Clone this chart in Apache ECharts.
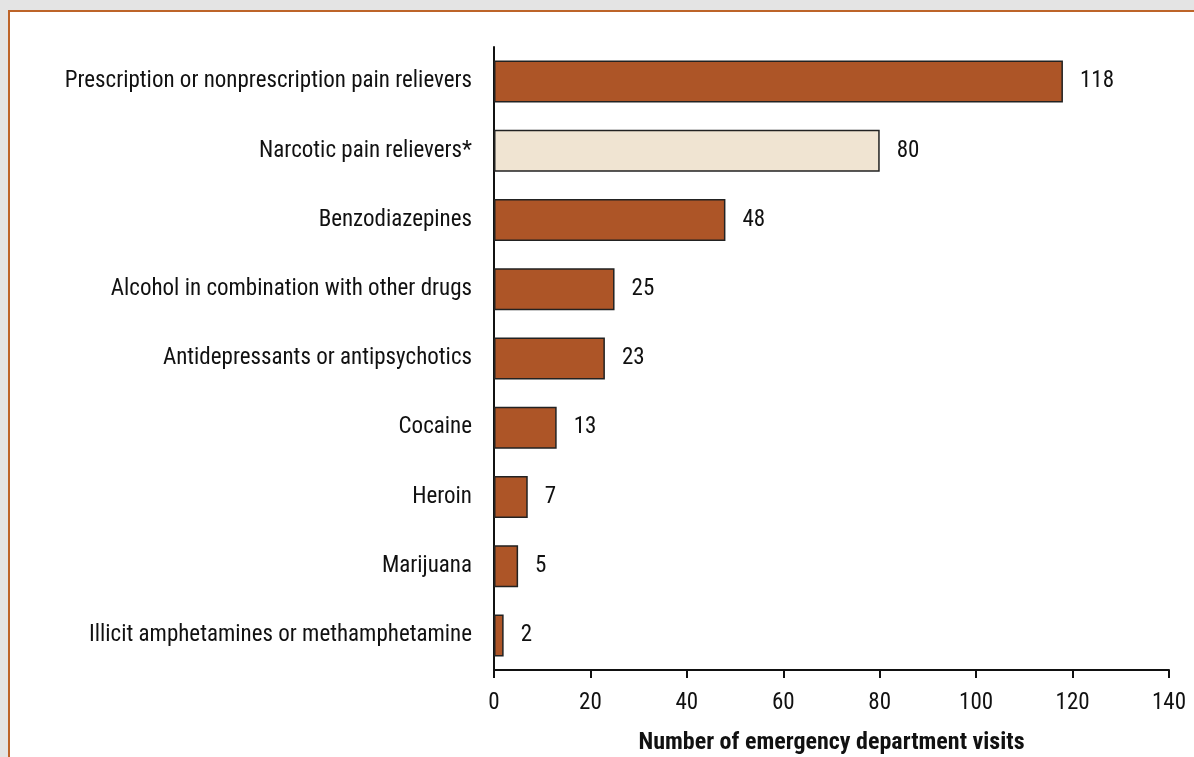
<!DOCTYPE html>
<html><head><meta charset="utf-8">
<script src="https://cdn.jsdelivr.net/npm/echarts@6/dist/echarts.min.js"></script>
<style>html,body{margin:0;padding:0;background:#fff}#c{width:1194px;height:757px}</style>
</head><body><div id="c"></div>
<script>
const categories = [
  "Prescription or nonprescription pain relievers",
  "Narcotic pain relievers*",
  "Benzodiazepines",
  "Alcohol in combination with other drugs",
  "Antidepressants or antipsychotics",
  "Cocaine",
  "Heroin",
  "Marijuana",
  "Illicit amphetamines or methamphetamine"
];
const visits = [118, 80, 48, 25, 23, 13, 7, 5, 2];
const highlighted = [false, true, false, false, false, false, false, false, false];
const xTicks = { min: 0, max: 140, interval: 20 };
const xTitle = "Number of emergency department visits";

const FONT = "'Liberation Sans Narrow', 'Arial Narrow', 'Roboto Condensed', sans-serif";
const chart = echarts.init(document.getElementById('c'), null, { renderer: 'canvas' });
chart.setOption({
  animation: false,
  backgroundColor: '#ffffff',
  graphic: [
    { type: 'rect', z: -10, shape: { x: 0, y: 0, width: 1194, height: 757 }, style: { fill: '#e4e4e4' } },
    { type: 'rect', z: -9, shape: { x: 8, y: 10, width: 1186, height: 747 }, style: { fill: '#bd6429' } },
    { type: 'rect', z: -8, shape: { x: 10, y: 12, width: 1184, height: 745 }, style: { fill: '#ffffff' } }
  ],
  grid: { left: 494, right: 25, top: 47, bottom: 87, containLabel: false, outerBoundsMode: 'none' },
  xAxis: {
    type: 'value', min: xTicks.min, max: xTicks.max, interval: xTicks.interval,
    name: xTitle, nameLocation: 'middle', nameGap: 61,
    nameTextStyle: { fontFamily: FONT, fontSize: 24, fontWeight: 'bold', color: '#111' },
    axisLine: { show: true, lineStyle: { color: '#111', width: 2 } },
    axisTick: { show: true, length: 8, lineStyle: { color: '#111', width: 2 } },
    axisLabel: { fontFamily: FONT, fontSize: 23, color: '#111', margin: 22 },
    splitLine: { show: false }
  },
  yAxis: {
    type: 'category', data: categories, inverse: true,
    axisLine: { show: true, lineStyle: { color: '#111', width: 2 } },
    axisTick: { show: false },
    axisLabel: { fontFamily: FONT, fontSize: 23, color: '#111', margin: 22 }
  },
  series: [{
    type: 'bar', barWidth: 42,
    data: visits.map((v, i) => ({
      value: v,
      itemStyle: { color: highlighted[i] ? '#f0e4d2' : '#ad5527' }
    })),
    itemStyle: { borderColor: '#222', borderWidth: 1.5 },
    label: { show: true, position: 'right', distance: 17, fontFamily: FONT, fontSize: 23, color: '#111' }
  }]
});
</script></body></html>
